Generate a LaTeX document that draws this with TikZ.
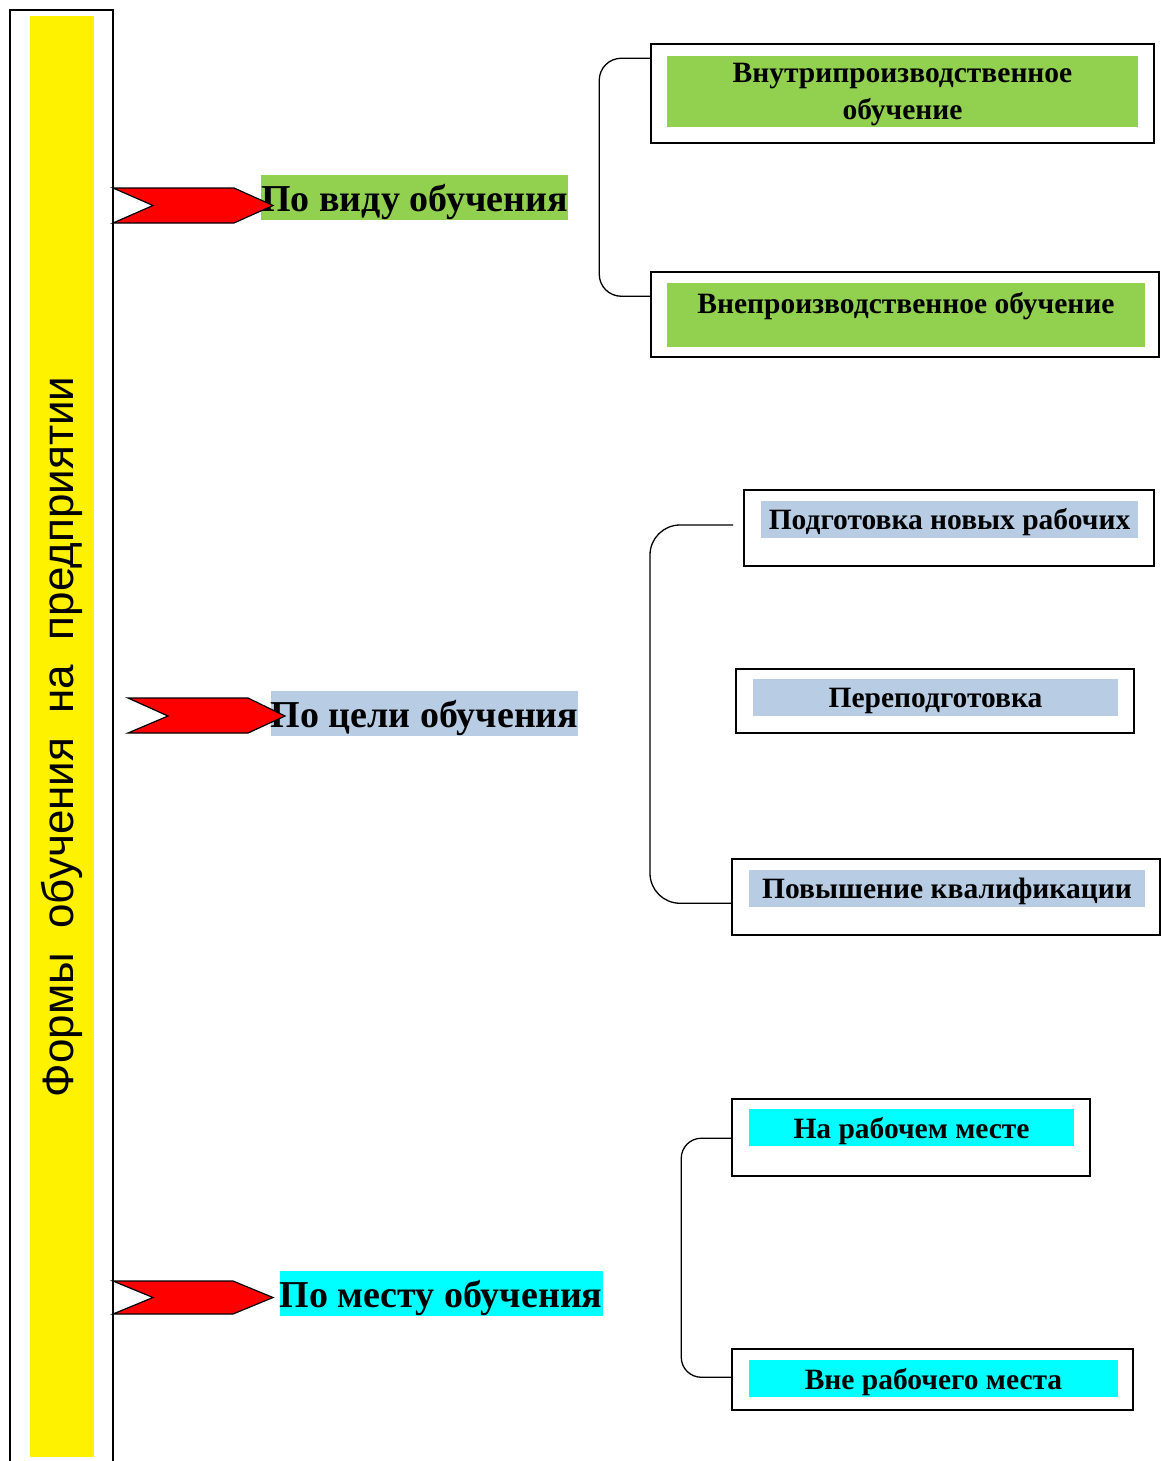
\documentclass[tikz,border=0pt]{standalone}
\usepackage{fontspec}
\setmainfont{Liberation Serif}
\newfontfamily\titlefont{Liberation Sans}
\usetikzlibrary{calc}
\definecolor{grn}{HTML}{92D050}
\definecolor{blu}{HTML}{B8CCE4}
\definecolor{cyn}{HTML}{00FFFF}
\tikzset{
  lbl/.style={inner sep=0pt, text depth=0pt, font=\bfseries\fontsize{38}{40}\selectfont},
  box/.style={draw=black, line width=1.5pt, inner sep=0pt},
  txt/.style={inner sep=0pt, text depth=0pt, align=center, font=\bfseries\fontsize{29.5}{37}\selectfont},
  chev/.style={fill=red, draw=black, line width=1.2pt, line join=miter},
  brk/.style={draw=black, line width=1.3pt}
}
\begin{document}
\begin{tikzpicture}[x=1pt,y=-1pt]
  \useasboundingbox (0,0) rectangle (1160,1461);
  % Рамка
  \fill[yellow] (30,16) rectangle (94,1457);
  \draw[line width=1.5pt] (10,1461) -- (10,10) -- (113,10) -- (113,1461);
  \node[rotate=90, inner sep=0pt, font=\titlefont\fontsize{44}{48}\selectfont] (forms) at (62,737) {Формы~~обучения~~на~~предприятии};
  % Подписи
  \node[lbl, fill=grn, minimum width=303, minimum height=45] (vid) at (414.5,197.5) {По виду обучения};
  \node[lbl, fill=blu, minimum width=305, minimum height=45] (cel) at (424.5,713.5) {По цели обучения};
  \node[lbl, fill=cyn, minimum width=320, minimum height=45] (mesto) at (441,1293.5) {По месту обучения};
  % Стрелки
  \draw[chev] (113,188) -- (234,188) -- (273,205.5) -- (234,223) -- (113,223) -- (153,205.5) -- cycle;
  \draw[chev] (128,698) -- (248,698) -- (285,716) -- (248,733) -- (128,733) -- (168,716) -- cycle;
  \draw[chev] (113,1281) -- (233,1281) -- (273,1297.5) -- (233,1314) -- (113,1314) -- (153,1297.5) -- cycle;
  % Блоки
  \node[box, minimum width=503, minimum height=99] (vnutri) at (902.5,93.5) {};
  \node[txt, fill=grn, minimum width=471, minimum height=71] (vnutriF) at (902.5,91.5) {Внутрипроизводственное\\обучение};
  \node[box, minimum width=508, minimum height=85] (vne) at (905,314.5) {};
  \node[fill=grn, inner sep=0pt, minimum width=478, minimum height=64] (vneF) at (906,315) {};
  \node[txt] (vneT) at (906,303) {Внепроизводственное обучение};
  \node[box, minimum width=410, minimum height=76] (novye) at (949,528) {};
  \node[txt, fill=blu, minimum width=377, minimum height=37] (novyeF) at (949.5,519) {Подготовка новых рабочих};
  \node[box, minimum width=398, minimum height=64] (perepod) at (935,701) {};
  \node[txt, fill=blu, minimum width=365, minimum height=37] (perepodF) at (935.5,697.5) {Переподготовка};
  \node[box, minimum width=428, minimum height=76] (povysh) at (946,897) {};
  \node[txt, fill=blu, minimum width=396, minimum height=37] (povyshF) at (947,888.5) {Повышение квалификации};
  \node[box, minimum width=358, minimum height=77] (narab) at (911,1137.5) {};
  \node[txt, fill=cyn, minimum width=325, minimum height=37] (narabF) at (911.5,1127.5) {На рабочем месте};
  \node[box, minimum width=401, minimum height=61] (vnerab) at (932.5,1379.5) {};
  \node[txt, fill=cyn, minimum width=369, minimum height=37] (vnerabF) at (933.5,1378.5) {Вне рабочего места};
  % Скобки
  \coordinate (celTop) at (733,525);
  \draw[brk, rounded corners=22] ($(vnutri.north west)+(0,15)$) -- ++(-51,0) |- ($(vne.north west)+(0,25)$);
  \draw[brk, rounded corners=30] (celTop) -- ++(-83,0) |- ($(povysh.north west)+(0,45)$);
  \draw[brk, rounded corners=20] ($(narab.north west)+(0,40)$) -- ++(-50,0) |- ($(vnerab.north west)+(0,29)$);
\end{tikzpicture}
\end{document}
